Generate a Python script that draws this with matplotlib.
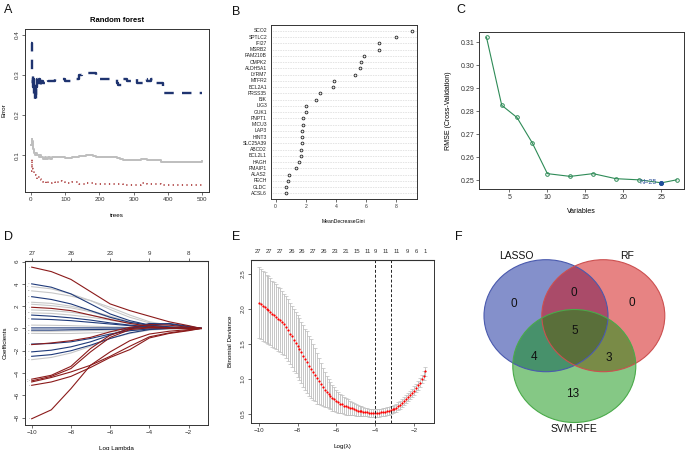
import numpy as np
import matplotlib
matplotlib.use('Agg')
import matplotlib.pyplot as plt
from matplotlib.patches import Ellipse

plt.rcParams['font.family'] = ['Liberation Sans', 'DejaVu Sans']

# ---------------- Panel A: random forest error ----------------
oob_trees = [1, 2, 3, 4, 5, 6, 8, 10, 12, 15, 18, 22, 26, 30, 35, 40, 45, 50, 55, 60, 70, 80,
             100, 120, 140, 160, 180, 190, 250, 260, 270, 300, 320, 340, 360, 380, 490, 500]
oob_err = [0.125, 0.13, 0.14, 0.135, 0.12, 0.115, 0.11, 0.105, 0.10, 0.105, 0.10, 0.095, 0.10,
           0.095, 0.09, 0.095, 0.09, 0.095, 0.09, 0.095, 0.095, 0.095, 0.093, 0.095, 0.097, 0.10,
           0.097, 0.095, 0.092, 0.09, 0.088, 0.088, 0.09, 0.088, 0.088, 0.083, 0.083, 0.085]
c0_trees = [1, 2, 3, 4, 6, 8, 10, 12, 15, 18, 20, 25, 30, 35, 40, 45, 50, 60, 70, 80, 90, 100,
            120, 140, 160, 180, 200, 230, 260, 270, 300, 320, 340, 360, 380, 400, 500]
c0_err = [0.06, 0.08, 0.09, 0.07, 0.065, 0.06, 0.055, 0.05, 0.045, 0.04, 0.045, 0.04, 0.038,
          0.033, 0.03, 0.035, 0.03, 0.032, 0.03, 0.035, 0.033, 0.03, 0.032, 0.028, 0.03, 0.027,
          0.029, 0.028, 0.029, 0.025, 0.025, 0.03, 0.028, 0.028, 0.025, 0.025, 0.025]
c1_trees = [1, 2, 3, 4, 5, 6, 7, 8, 9, 10, 11, 12, 13, 14, 15, 16, 18, 20, 22, 25, 28, 30, 35,
            40, 50, 60, 70, 100, 130, 140, 150, 180, 190, 200, 250, 255, 270, 280, 300, 310,
            330, 340, 350, 360, 370, 380, 385, 500]
c1_err = [0.38, 0.36, 0.33, 0.30, 0.28, 0.30, 0.27, 0.29, 0.25, 0.28, 0.24, 0.27, 0.24, 0.28,
          0.25, 0.27, 0.29, 0.275, 0.29, 0.28, 0.27, 0.285, 0.28, 0.29, 0.285, 0.285, 0.29,
          0.285, 0.29, 0.30, 0.305, 0.305, 0.29, 0.29, 0.28, 0.275, 0.29, 0.285, 0.29, 0.28,
          0.29, 0.285, 0.29, 0.28, 0.28, 0.28, 0.255, 0.255]

# ---------------- Panel B: MeanDecreaseGini ----------------
genes = ['SCO2', 'SPTLC2', 'IFI27', 'MSRB2', 'FAM210B', 'CMPK2', 'ALDH5A1', 'LYRM7', 'MTFR2',
         'BCL2A1', 'PRSS35', 'BIK', 'LIG3', 'GUK1', 'PNPT1', 'MICU3', 'LAP3', 'HINT3',
         'SLC25A39', 'ABCD2', 'BCL2L1', 'HAGH', 'PMAIP1', 'ALAS2', 'FECH', 'GLDC', 'ACSL6']
gini = [9.02, 7.98, 6.87, 6.83, 5.88, 5.68, 5.61, 5.24, 3.89, 3.82, 2.96, 2.67, 2.03, 2.03,
        1.81, 1.79, 1.75, 1.75, 1.72, 1.70, 1.70, 1.57, 1.33, 0.91, 0.84, 0.71, 0.69]

# ---------------- Panel C: SVM-RFE ----------------
n_vars = [2, 4, 6, 8, 10, 13, 16, 19, 22, 25, 27]
rmse = [0.3122, 0.2826, 0.2773, 0.2663, 0.2528, 0.2516, 0.2528, 0.2506, 0.2501, 0.2488, 0.2501]
best_n = 25

# ---------------- Panel D: LASSO coefficient paths ----------------
path_loglam = [-10, -9, -8, -7, -6, -5, -4, -3, -2, -1.36]
coef_paths = [
    ('red',  [5.5, 5.1, 4.4, 3.3, 2.2, 1.6, 1.1, 0.6, 0.25, 0]),
    ('red',  [-8.1, -7.3, -5.4, -3.3, -2.1, -1.1, -0.5, -0.25, -0.1, 0]),
    ('red',  [-4.55, -4.2, -3.4, -1.8, -0.6, 0.0, 0.1, 0.05, 0.02, 0]),
    ('red',  [-4.7, -4.3, -3.6, -2.1, -0.8, -0.1, 0.05, 0.03, 0.01, 0]),
    ('red',  [-4.8, -4.4, -3.9, -3.3, -2.5, -1.6, -0.75, -0.4, -0.15, 0]),
    ('red',  [-5.1, -4.8, -4.3, -3.5, -2.6, -1.9, -0.85, -0.45, -0.2, 0]),
    ('red',  [1.9, 1.8, 1.6, 1.2, 0.8, 0.45, 0.2, 0.05, 0.0, 0]),
    ('red',  [-1.45, -1.3, -1.1, -0.8, -0.3, 0.1, 0.35, 0.3, 0.1, 0]),
    ('gray', [3.75, 3.55, 3.1, 2.5, 1.7, 1.0, 0.5, 0.25, 0.1, 0]),
    ('gray', [3.37, 3.2, 2.9, 2.5, 1.9, 1.2, 0.6, 0.3, 0.1, 0]),
    ('gray', [2.35, 2.25, 2.0, 1.6, 1.1, 0.6, 0.3, 0.15, 0.05, 0]),
    ('gray', [2.17, 2.05, 1.85, 1.5, 1.0, 0.55, 0.25, 0.1, 0.03, 0]),
    ('gray', [1.66, 1.6, 1.45, 1.2, 0.85, 0.5, 0.25, 0.1, 0.03, 0]),
    ('gray', [1.4, 1.35, 1.2, 1.0, 0.75, 0.45, 0.25, 0.1, 0.03, 0]),
    ('gray', [0.3, 0.28, 0.25, 0.2, 0.15, 0.1, 0.05, 0.02, 0, 0]),
    ('gray', [-0.25, -0.25, -0.22, -0.2, -0.15, -0.1, -0.05, 0, 0, 0]),
    ('gray', [-0.44, -0.45, -0.45, -0.4, -0.3, -0.2, -0.1, -0.05, 0, 0]),
    ('gray', [-2.8, -2.6, -2.2, -1.6, -0.9, -0.45, -0.15, -0.05, 0, 0]),
    ('blue', [4.0, 3.7, 3.1, 2.2, 1.3, 0.7, 0.3, 0.1, 0.03, 0]),
    ('blue', [2.85, 2.6, 2.2, 1.6, 1.0, 0.55, 0.3, 0.15, 0.05, 0]),
    ('blue', [1.2, 1.1, 0.95, 0.75, 0.5, 0.3, 0.15, 0.05, 0.02, 0]),
    ('blue', [0.85, 0.8, 0.7, 0.55, 0.4, 0.25, 0.1, 0.05, 0.0, 0]),
    ('blue', [0.05, 0.05, 0.05, 0.05, 0.05, 0.05, 0.05, 0.05, 0.02, 0]),
    ('blue', [-0.15, -0.15, -0.12, -0.1, -0.08, -0.05, 0.3, 0.45, 0.2, 0]),
    ('blue', [-1.4, -1.35, -1.2, -0.9, -0.5, -0.2, -0.05, 0, 0, 0]),
    ('blue', [-2.1, -1.95, -1.65, -1.2, -0.6, 0.0, 0.45, 0.4, 0.15, 0]),
    ('blue', [-2.5, -2.35, -2.0, -1.5, -0.9, -0.4, -0.1, 0, 0, 0]),
]
top_d_pos = [-10, -8, -6, -4, -2]
top_d_lab = ['27', '26', '23', '9', '8']

# ---------------- Panel E: LASSO cross-validation ----------------
cv_loglam = np.round(np.arange(-10.0, -1.35, 0.1), 1)
cv_mean = [2.09, 2.07, 2.05, 2.03, 2.00, 1.98, 1.96, 1.93, 1.91, 1.89,
           1.86, 1.84, 1.81, 1.78, 1.74, 1.70, 1.65, 1.61, 1.56, 1.52,
           1.47, 1.43, 1.38, 1.33, 1.28, 1.24, 1.19, 1.15, 1.10, 1.06,
           1.01, 0.97, 0.93, 0.89, 0.85, 0.82, 0.79, 0.76, 0.73, 0.71,
           0.69, 0.67, 0.65, 0.64, 0.62, 0.61, 0.60, 0.59, 0.58, 0.57,
           0.56, 0.55, 0.545, 0.54, 0.535, 0.53, 0.525, 0.52, 0.518, 0.515,
           0.514, 0.515, 0.518, 0.522, 0.527, 0.533, 0.54, 0.547, 0.555, 0.565,
           0.577, 0.59, 0.61, 0.63, 0.655, 0.68, 0.71, 0.74, 0.77, 0.80,
           0.835, 0.87, 0.91, 0.95, 1.00, 1.05, 1.11]
cv_se = [0.51, 0.505, 0.50, 0.495, 0.49, 0.485, 0.48, 0.475, 0.47, 0.465,
         0.46, 0.455, 0.45, 0.44, 0.44, 0.44, 0.44, 0.44, 0.44, 0.44,
         0.44, 0.44, 0.44, 0.44, 0.44, 0.44, 0.43, 0.42, 0.40, 0.38,
         0.36, 0.33, 0.30, 0.27, 0.245, 0.225, 0.21, 0.195, 0.18, 0.17,
         0.16, 0.15, 0.14, 0.13, 0.125, 0.12, 0.11, 0.10, 0.095, 0.09,
         0.085, 0.08, 0.075, 0.07, 0.065, 0.06, 0.058, 0.056, 0.055, 0.055,
         0.055, 0.055, 0.055, 0.055, 0.055, 0.055, 0.055, 0.055, 0.055, 0.055,
         0.055, 0.055, 0.056, 0.056, 0.057, 0.057, 0.058, 0.058, 0.059, 0.059,
         0.06, 0.06, 0.06, 0.06, 0.06, 0.06, 0.06]
lam_min = -4.01
lam_1se = -3.18
top_e_pos = [-10.02, -9.45, -8.88, -8.31, -7.75, -7.18, -6.63, -6.08, -5.51, -4.96, -4.39,
             -3.96, -3.46, -2.89, -2.34, -1.88, -1.41]
top_e_lab = ['27', '27', '27', '26', '26', '27', '26', '23', '21', '15', '11', '9', '11',
             '11', '9', '6', '1']

# ---------------- Panel F: Venn ----------------
venn_names = ['LASSO', 'RF', 'SVM-RFE']
venn_only = [0, 0, 13]          # LASSO only, RF only, SVM only
venn_pairs = [0, 4, 3]          # LASSO&RF, LASSO&SVM, RF&SVM
venn_all = 5

# =============================================================
W, H = 685, 450
fig = plt.figure(figsize=(W / 100, H / 100), dpi=100)


def ax_px(l, t, r, b):
    return fig.add_axes([l / W, 1 - b / H, (r - l) / W, (b - t) / H])


FR = '#333333'
TK = '#333333'


def rstyle(ax, fs=4.5, rot_y=True):
    for s in ax.spines.values():
        s.set_color(FR)
        s.set_linewidth(0.7)
    ax.tick_params(direction='out', length=2.2, width=0.5, colors=TK, labelsize=fs, pad=1.5)
    if rot_y:
        for lab in ax.get_yticklabels():
            lab.set_rotation(90)
            lab.set_va('center')


def letter(x, y, s):
    fig.text(x / W, 1 - y / H, s, fontsize=9, ha='left', va='center', color='#111111')


# ---- A
axA = ax_px(25, 29, 209, 192)
axA.step(oob_trees, oob_err, where='post', color='#BEBEBE', lw=1.4)
axA.step(c0_trees, c0_err, where='post', color='#A02020', lw=1.1, dashes=(0.8, 2.2))
axA.step(c1_trees, c1_err, where='post', color='#1F3470', lw=1.7, dashes=(4, 3.5))
axA.set_xlim(-17.5, 520)
axA.set_ylim(0.008, 0.415)
axA.set_xticks([0, 100, 200, 300, 400, 500])
axA.set_yticks([0.1, 0.2, 0.3, 0.4])
axA.set_title('Random forest', fontsize=5.5, fontweight='bold', pad=5)
axA.set_xlabel('trees', fontsize=4.5, labelpad=8)
axA.set_ylabel('Error', fontsize=4.5, labelpad=6)
rstyle(axA)
letter(4, 10, 'A')

# ---- B
axB = ax_px(270.7, 25, 417, 199)
n = len(genes)
ypos = np.arange(n, 0, -1)
for yy in ypos:
    axB.axhline(yy, color='#AAAAAA', lw=0.4, ls=(0, (1, 2)))
axB.plot(gini, ypos, 'o', ms=2.0, mfc='none', mec='#222222', mew=0.6)
axB.set_ylim(0.1, 27.95)
axB.set_xlim(-0.33, 9.37)
axB.set_xticks([0, 2, 4, 6, 8])
axB.set_yticks([])
for g, yy in zip(genes, ypos):
    axB.text(-0.33 - 0.25, yy, g, fontsize=3.6, ha='right', va='center', color='#222222')
axB.set_xlabel('MeanDecreaseGini', fontsize=3.6, labelpad=7)
rstyle(axB, fs=3.6)
letter(232, 12, 'B')

# ---- C
axC = ax_px(479.3, 31.7, 684.3, 189)
axC.plot(n_vars, rmse, '-o', color='#2E8B57', lw=0.8, ms=2.6, mfc='none', mec='#2E8B57', mew=0.7)
bi = n_vars.index(best_n)
axC.plot([best_n], [rmse[bi]], 'o', ms=2.6, color='#1F4E9C')
axC.text(best_n - 0.6, rmse[bi], 'N=%d' % best_n, fontsize=5, color='#3B5BA0',
         ha='right', va='center')
axC.set_xlim(1.05, 28.0)
axC.set_ylim(0.2461, 0.3147)
axC.set_xticks([5, 10, 15, 20, 25])
axC.set_yticks([0.25, 0.26, 0.27, 0.28, 0.29, 0.30, 0.31])
axC.set_yticklabels(['0.25', '0.26', '0.27', '0.28', '0.29', '0.30', '0.31'])
axC.set_xlabel('Variables', fontsize=5, labelpad=5)
axC.set_ylabel('RMSE (Cross-Validation)', fontsize=5, labelpad=6)
rstyle(axC, fs=5, rot_y=False)
letter(456, 10, 'C')

# ---- D
axD = ax_px(25, 261, 208.3, 425)
cmap = {'red': '#8B1A1A', 'blue': '#1F3A7A', 'gray': '#C8C8C8'}
order = ['gray', 'blue', 'red']
for grp in order:
    for col, vals in coef_paths:
        if col == grp:
            axD.plot(path_loglam, vals, color=cmap[col], lw=0.8)
# small variable-index labels at the left end, staggered so they do not collide
starts = sorted([(vals[0], i + 1) for i, (col, vals) in enumerate(coef_paths)])
cols_x = [-10.06, -10.2]
last_y = [-99, -99]
for v0, idx in starts:
    k = 0 if v0 - last_y[0] >= 0.42 else 1
    if k == 1 and v0 - last_y[1] < 0.42:
        k = 0 if last_y[0] <= last_y[1] else 1
    axD.text(cols_x[k], v0, str(idx), fontsize=1.6, color='#888888', ha='right', va='center')
    last_y[k] = v0
axD.set_xlim(-10.34, -1.0)
axD.set_ylim(-8.66, 6.05)
axD.set_xticks([-10, -8, -6, -4, -2])
axD.set_yticks([-8, -6, -4, -2, 0, 2, 4, 6])
axD.set_xlabel('Log Lambda', fontsize=4.5, labelpad=8)
axD.set_ylabel('Coefficients', fontsize=4.5, labelpad=5)
rstyle(axD)
axD2 = axD.secondary_xaxis('top')
axD2.set_xticks(top_d_pos)
axD2.set_xticklabels(top_d_lab)
axD2.tick_params(direction='out', length=2.2, width=0.5, colors=TK, labelsize=4.5, pad=1.5)
letter(4, 237, 'D')

# ---- E
axE = ax_px(251, 260, 434, 422.7)
axE.errorbar(cv_loglam, cv_mean, yerr=cv_se, fmt='none', ecolor='#BDBDBD', elinewidth=0.6,
             capsize=1.3, capthick=0.5)
axE.plot(cv_loglam, cv_mean, 'o', color='#FF0000', ms=1.6, mew=0)
axE.axvline(lam_min, color='#222222', lw=0.7, ls=(0, (3, 2)))
axE.axvline(lam_1se, color='#222222', lw=0.7, ls=(0, (3, 2)))
axE.set_xlim(-10.4, -0.96)
axE.set_ylim(0.376, 2.7)
axE.set_xticks([-10, -8, -6, -4, -2])
axE.set_yticks([0.5, 1.0, 1.5, 2.0, 2.5])
axE.set_xlabel('Log(λ)', fontsize=4.5, labelpad=8)
axE.set_ylabel('Binomial Deviance', fontsize=4.5, labelpad=6)
rstyle(axE)
axE2 = axE.secondary_xaxis('top')
axE2.set_xticks(top_e_pos)
axE2.set_xticklabels(top_e_lab)
axE2.tick_params(direction='out', length=0, width=0.5, colors=TK, labelsize=4.2, pad=4)
letter(232, 237, 'E')

# ---- F
axF = ax_px(455, 225, 685, 450)
axF.set_xlim(0, 230)
axF.set_ylim(225, 0)
axF.axis('off')
fills = ['#0A2299', '#D00808', '#0C930C']
edges = ['#4A5AAE', '#CC5050', '#4AAA4A']
centers = [(91, 90.7), (148.3, 90.7), (119.3, 141)]
sizes = [(124, 112), (123, 112), (123, 113)]
for c, (w_, h_), fc, ec in zip(centers, sizes, fills, edges):
    axF.add_patch(Ellipse(c, w_, h_, facecolor=fc, alpha=0.5, edgecolor='none'))
for c, (w_, h_), fc, ec in zip(centers, sizes, fills, edges):
    axF.add_patch(Ellipse(c, w_, h_, facecolor='none', edgecolor=ec, lw=0.8))
num_fs = 8.5
axF.text(59, 79.3, str(venn_only[0]), fontsize=num_fs, ha='center', va='center', color='#111111')
axF.text(176.7, 78.3, str(venn_only[1]), fontsize=num_fs, ha='center', va='center', color='#111111')
axF.text(117.3, 169.3, str(venn_only[2]), fontsize=num_fs, ha='center', va='center', color='#111111')
axF.text(119.3, 68.3, str(venn_pairs[0]), fontsize=num_fs, ha='center', va='center', color='#111111')
axF.text(79.3, 132.3, str(venn_pairs[1]), fontsize=num_fs, ha='center', va='center', color='#111111')
axF.text(154, 133.3, str(venn_pairs[2]), fontsize=num_fs, ha='center', va='center', color='#111111')
axF.text(119.3, 106, str(venn_all), fontsize=num_fs, ha='center', va='center', color='#111111')
axF.text(61.7, 30.7, venn_names[0], fontsize=7.5, ha='center', va='center', color='#111111')
axF.text(171.7, 30.7, venn_names[1], fontsize=7.5, ha='center', va='center', color='#111111')
axF.text(119, 204, venn_names[2], fontsize=7.5, ha='center', va='center', color='#111111')
letter(455, 237, 'F')

fig.savefig('out.png', dpi=100)
